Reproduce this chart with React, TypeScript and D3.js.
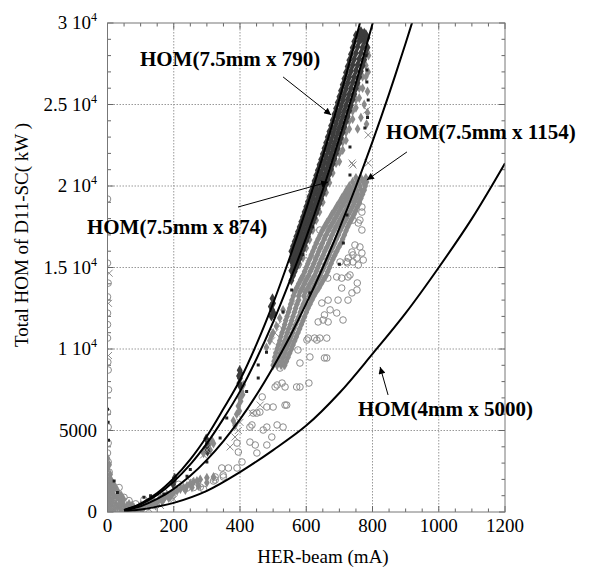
import React from "react";
import * as d3 from "d3";

// ---------- data (HER-beam current in mA, HOM power in kW) ----------
const xTicks = [0, 200, 400, 600, 800, 1000, 1200];
const yTicks = [0, 5000, 10000, 15000, 20000, 25000, 30000];
const yTickText = ["0", "5000", "1 10^4", "1.5 10^4", "2 10^4", "2.5 10^4", "3 10^4"];

const curve790: [number, number][] = [[50,130],[100,520],[150,1160],[200,2070],[250,3230],[300,4650],[350,6330],[400,8100],[450,10300],[500,12800],[550,15600],[600,18600],[650,21830],[700,25320],[750,29060],[770,30630]];
const curve874: [number, number][] = [[50,117],[100,468],[150,1050],[200,1870],[250,2920],[300,4210],[350,5730],[400,7400],[450,9400],[500,11650],[550,14160],[600,16850],[650,19770],[700,22930],[750,26330],[800,29950],[810,30700]];
const curve1154: [number, number][] = [[50,90],[100,355],[150,800],[200,1420],[250,2220],[300,3200],[350,4350],[400,5680],[450,7190],[500,8880],[550,10740],[600,12780],[650,15000],[700,17400],[750,19970],[800,22720],[850,25650],[900,28760],[930,30700]];
const curve5000: [number, number][] = [[50,40],[100,150],[150,330],[200,560],[300,1300],[400,2450],[500,3800],[600,5300],[700,7300],[800,9700],[900,12200],[1000,15000],[1100,18000],[1200,21400]];

// dark band rows: current -> list of powers
const darkBandRows: [number, number[]][] = [
  [555,[14200,14800,15400,16000]],[560,[14500,15100,15700,16300]],[565,[14750,15350,15950,16600]],
  [570,[15000,15650,16300,16900]],[575,[15280,15920,16560,17190]],[580,[15540,16190,16840,17490]],
  [585,[15810,16470,17130,17800]],[590,[16080,16750,17430,18100]],[595,[16360,17040,17720,18410]],
  [600,[16630,17330,18030,18720]],[605,[16910,17620,18330,19030]],[610,[17190,17910,18630,19350]],
  [615,[17470,18200,18940,19670]],[620,[17760,18500,19250,19990]],[625,[18050,18800,19560,20310]],
  [630,[18340,19110,19870,20640]],[635,[18630,19410,20190,20970]],[640,[18920,19710,20510,21300]],
  [645,[19220,20020,20830,21630]],[650,[19520,20340,21150,21970]],[655,[19820,20650,21480,22310]],
  [660,[20120,20960,21810,22650]],[665,[20430,21290,22140,23000]],[670,[20740,21610,22470,23340]],
  [675,[21050,21930,22810,23690]],[680,[21360,22260,23150,24040]],[685,[21680,22590,23490,24400]],
  [690,[22000,22920,23840,24760]],[695,[22320,23250,24190,25120]],[700,[22640,23590,24530,25480]],
  [705,[22960,23920,24890,25850]],[710,[23290,24260,25240,26210]],[715,[23620,24610,25600,26580]],
  [720,[23950,24950,25960,26960]],[725,[24280,25300,26310,27330]],[730,[24620,25650,26680,27710]],
  [735,[24960,26000,27050,28090]],[740,[25300,26360,27420,28480]],[745,[25640,26710,27790,28860]],
  [750,[25990,27080,28160,29250]],[755,[26330,27440,28540,29300]],[760,[26690,27800,28900,29400]],
  [765,[27040,28160,29000,29500]],[770,[27390,28500,29300]],[775,[27750,28900,29400]],
  [780,[28110,29000,29300]],[785,[28500,29100]],
];
const darkClumps: [number, number][] = [[495,12000],[497,12400],[500,12800],[498,13100],[493,12600],[502,12200],[398,7900],[400,8200],[402,8500],[399,8700],[401,7700],[397,8350],[300,3900],[303,4200],[298,4500],[302,3700],[200,1900],[198,1700],[203,2100]];

// lower grey band rows: power -> list of currents
const greyBandRows: [number, number[]][] = [
  [9000,[500,512,524,535]],[9250,[503,515,527,540]],[9500,[505,518,531,545]],[9750,[508,522,536,550]],
  [10000,[512,526,540,555]],[10250,[516,530,545,560]],[10500,[520,535,550,565]],[10750,[523,539,554,570]],
  [11000,[527,543,559,575]],[11250,[531,547,563,580]],[11500,[535,552,568,585]],[11750,[538,556,573,590]],
  [12000,[542,560,578,595]],[12250,[546,564,582,600]],[12500,[550,568,586,605]],[12750,[553,572,591,611]],
  [13000,[557,577,597,617]],[13250,[561,577,593,609,623]],[13500,[565,581,597,614,630]],[13750,[571,588,605,621,638]],
  [14000,[577,594,611,628,645]],[14250,[583,600,618,635,652]],[14500,[590,607,625,642,660]],[14750,[595,612,630,647,665]],
  [15000,[600,618,635,653,670]],[15250,[605,623,640,658,675]],[15500,[610,628,645,663,680]],[15750,[615,633,651,669,686]],
  [16000,[620,638,656,674,692]],[16250,[625,643,662,680,698]],[16500,[630,649,668,686,705]],[16750,[636,654,673,691,710]],
  [17000,[642,660,678,697,715]],[17250,[648,666,684,702,720]],[17500,[655,673,690,708,725]],[17750,[662,680,697,714,731]],
  [18000,[670,687,704,721,738]],[18250,[677,694,711,727,744]],[18500,[685,701,718,734,750]],[18750,[692,708,724,740,755]],
  [19000,[700,715,730,745,760]],[19250,[707,722,737,751,765]],[19500,[715,729,743,756,770]],[19750,[722,737,752,766,775]],
  [20000,[730,746,762,778]],[20250,[740,756,772,782]],[20500,[750,765,780]],
];
const greyUpper: [number, number][] = [[620,17300],[630,17900],[640,18400],[650,19000],[660,19600],[670,20200],[680,20800],[690,21400],[700,22000],[710,22700],[720,23300],[730,24000],[740,24600],[750,25300],[760,26000],[770,26700],[780,27400],[785,28200],[700,21500],[710,22200],[720,22800],[730,23500],[740,24100],[750,24800],[760,25400],[770,26000],[780,26700],[785,25800],[787,27000],[785,24500],[782,23800],[775,25000],[765,24200],[755,23500],[600,16200],[610,16700],[580,15200],[590,15600],[782,28600],[778,29200],[788,28000]];
const greyClumps: [number, number][] = [[380,5600],[390,6000],[395,6500],[400,7000],[405,7400],[410,7800],[398,6200],[402,6800],[385,5300],[408,7200],[290,3600],[300,3900],[305,4100],[315,4400],[320,4200],[310,3800],[480,10100],[490,10500],[500,11000],[510,11400],[520,11900],[530,12400],[495,10800],[220,1400],[230,1500],[240,1600],[250,1750],[260,1850],[270,1900],[280,2000],[300,2100],[320,2150],[235,1350],[255,1500],[275,1600],[300,1800]];
const greyOrigin: [number, number][] = [[5,200],[10,400],[15,700],[20,1000],[8,1300],[25,500],[30,300],[35,800],[12,1600],[40,200],[45,600],[50,400],[55,150],[60,350],[70,100],[80,250],[90,200],[100,400],[110,300],[120,550],[130,450],[140,700],[150,600],[160,850],[170,800],[180,1050],[190,950],[200,1200],[210,1300],[20,50],[40,0],[60,0],[0,800],[0,1100],[3,50],[5,1800],[0,2000],[8,2300],[2,300],[4,600],[6,900],[8,1100],[3,1500],[15,1300],[18,1700],[25,1500],[28,900],[33,1200],[38,500],[42,1000],[48,800],[22,300],[12,100],[50,100],[65,500],[75,400],[85,100],[95,300],[105,150],[115,500],[125,350],[135,600],[145,400],[155,750],[165,650],[175,950],[185,850],[195,1100],[10,2000],[0,2600],[5,2900],[0,3300]];

const circlePts: [number, number][] = [[722,15360],[741,15340],[665,14350],[692,14420],[707,14350],[732,14540],[754,14050],[738,13440],[707,13740],[696,13000],[666,13000],[647,12820],[672,12400],[655,12090],[636,11660],[666,11660],[606,10670],[625,10670],[662,10670],[641,10670],[575,9940],[611,9510],[655,9450],[581,9140],[551,10550],[521,8830],[506,7670],[536,7670],[581,7670],[527,7910],[571,7670],[608,7910],[467,7060],[481,6440],[451,6070],[500,6440],[536,6560],[436,5340],[470,5030],[530,5210],[496,4600],[446,4110],[391,4230],[451,3620],[406,3070],[365,2700],[391,2700],[349,2270],[325,1960],[280,1530],[240,1470],[726,14420],[753,13620],[726,13000],[692,12210],[711,11780],[651,11780],[632,10550],[602,10550],[662,9450],[772,15460],[741,15770],[641,17300],[672,17420],[661,16870],[757,18960],[768,18710],[768,18400],[762,17910],[741,17910],[757,17730],[768,17300],[747,16380],[762,16260],[738,15950],[768,15890],[753,15580],[727,15580],[724,15280],[757,15150],[641,16260],[656,15340],[681,15770],[702,15340],[512,7790],[440,6070],[460,6130],[541,6560],[430,5210],[481,5210],[512,5340],[430,4290],[481,4110],[395,3680],[345,2700],[350,2150],[325,2150],[0,19200],[0,15270],[2,14040],[0,12200],[0,10670],[1,9200],[2,8710],[0,6130],[2,5210],[2,4230],[0,3620],[2,3070],[5,2450],[5,1960],[10,1470],[0,11500],[0,13200],[3,7500],[10,600],[25,1200],[35,1500],[50,900],[65,700],[85,500],[110,750],[140,400],[170,1200],[195,1000],[215,1700],[260,1500],[290,1400],[320,1900]];
const crossPts: [number, number][] = [[738,21410],[787,21410],[783,24660],[787,23130],[741,21290],[622,15640],[461,6560],[436,6070],[370,3990],[395,5000],[385,4600],[400,5500],[300,3800],[310,4200],[290,3500],[505,11000],[495,10500],[515,11500],[5,14650],[3,12800],[3,9600],[15,150],[30,0],[70,300],[95,50],[125,200],[160,400],[200,800],[250,1900],[560,12800],[590,14200]];
const squarePts: [number, number][] = [[783,27120],[783,26380],[787,25280],[777,23560],[732,22390],[732,20670],[723,18220],[712,16500],[700,15200],[556,13620],[530,12270],[611,13440],[360,5770],[340,4540],[300,3070],[455,9020],[455,8220],[0,6300],[3,4400],[2,5500],[20,1900],[30,1200],[110,900],[130,1000],[170,1100],[240,2200],[620,17500],[590,15800],[780,28000],[785,24200],[250,2600],[420,7400],[480,9800]];

const annotations = [
  { text: "HOM(7.5mm x 790)", tx: 98, ty: 27360, from: [530, 26690], to: [675, 24360] },
  { text: "HOM(7.5mm x 874)", tx: -62, ty: 17055, from: [394, 18710], to: [666, 20245] },
  { text: "HOM(7.5mm x 1154)", tx: 841, ty: 22880, from: [904, 22090], to: [783, 20370] },
  { text: "HOM(4mm x 5000)", tx: 756, ty: 5890, from: [847, 7180], to: [823, 8900] },
];

// ---------- layout ----------
const W = 589, H = 568;
const L = 107.5, R = 505, T = 23, B = 512;
const FONT = "'Liberation Serif', 'Times New Roman', serif";

export default function App() {
  const x = d3.scaleLinear().domain([0, 1200]).range([L, R]);
  const y = d3.scaleLinear().domain([0, 30000]).range([B, T]);

  const darkPts: [number, number][] = darkBandRows.flatMap(([i, ps]) => ps.map((p) => [i, p] as [number, number])).concat(darkClumps);
  const greyPts: [number, number][] = greyBandRows.flatMap(([p, is]) => is.map((i) => [i, p] as [number, number])).concat(greyUpper, greyClumps, greyOrigin);

  const diamond = d3.symbol(d3.symbolDiamond, 30)() as string;
  const greyDiamond = d3.symbol(d3.symbolDiamond, 28)() as string;
  const sq = d3.symbol(d3.symbolSquare, 9)() as string;
  const line = d3.line<[number, number]>().x((d) => x(d[0])).y((d) => y(d[1])).curve(d3.curveCatmullRom);

  const xMinor = d3.range(0, 1201, 50);
  const yMinor = d3.range(0, 30001, 1000);

  return (
    <svg width={W} height={H} style={{ position: "absolute", left: 0, top: 0, background: "#fff", fontFamily: FONT }}>
      <defs>
        <clipPath id="plot"><rect x={L} y={T} width={R - L} height={B - T} /></clipPath>
        <marker id="ah" viewBox="0 0 10 10" refX="10" refY="5" markerWidth="9" markerHeight="7" markerUnits="userSpaceOnUse" orient="auto">
          <path d="M0,0 L10,5 L0,10 z" fill="#000" />
        </marker>
      </defs>
      <rect x={0} y={0} width={W} height={H} fill="#fff" />
      {/* grid */}
      <g stroke="#999" strokeWidth={1} strokeDasharray="1.5,1.5">
        {xTicks.slice(1, -1).map((t) => <line key={"gx" + t} x1={x(t)} x2={x(t)} y1={T} y2={B} />)}
        {yTicks.slice(1, -1).map((t) => <line key={"gy" + t} x1={L} x2={R} y1={y(t)} y2={y(t)} />)}
      </g>
      {/* ticks */}
      <g stroke="#666" strokeWidth={1}>
        {xMinor.map((t) => {
          const len = t % 200 === 0 ? 6 : 3.5;
          return (
            <g key={"xt" + t}>
              <line x1={x(t)} x2={x(t)} y1={B} y2={B - len} />
              <line x1={x(t)} x2={x(t)} y1={T} y2={T + len} />
            </g>
          );
        })}
        {yMinor.map((t) => {
          const len = t % 5000 === 0 ? 6 : 3.5;
          return (
            <g key={"yt" + t}>
              <line x1={L} x2={L + len} y1={y(t)} y2={y(t)} />
              <line x1={R} x2={R - len} y1={y(t)} y2={y(t)} />
            </g>
          );
        })}
      </g>
      {/* data */}
      <g clipPath="url(#plot)">
        <g fill="none" stroke="#8c8c8c" strokeWidth={1}>
          {circlePts.map((d, i) => <circle key={"c" + i} cx={x(d[0])} cy={y(d[1])} r={3.3} />)}
        </g>
        <g fill="#8a8a8a">
          {greyPts.map((d, i) => <path key={"g" + i} d={greyDiamond} transform={`translate(${x(d[0])},${y(d[1])})`} />)}
        </g>
        <g fill="#3c3c3c">
          {darkPts.map((d, i) => <path key={"d" + i} d={diamond} transform={`translate(${x(d[0])},${y(d[1])})`} />)}
        </g>
        <g stroke="#8c8c8c" strokeWidth={1}>
          {crossPts.map((d, i) => (
            <path key={"x" + i} d="M-3.5,-3.5L3.5,3.5M-3.5,3.5L3.5,-3.5" transform={`translate(${x(d[0])},${y(d[1])})`} />
          ))}
        </g>
        <g fill="#222">
          {squarePts.map((d, i) => <path key={"s" + i} d={sq} transform={`translate(${x(d[0])},${y(d[1])})`} />)}
        </g>
        <g fill="none" stroke="#000" strokeWidth={2}>
          {[curve790, curve874, curve1154, curve5000].map((c, i) => <path key={"l" + i} d={line(c) as string} />)}
        </g>
      </g>
      {/* frame */}
      <rect x={L} y={T} width={R - L} height={B - T} fill="none" stroke="#777" strokeWidth={1} />
      {/* tick labels */}
      <g fontSize={19} fill="#000">
        {xTicks.map((t) => (
          <text key={"xl" + t} x={x(t)} y={B + 20} textAnchor="middle">{t}</text>
        ))}
        {yTicks.map((t, i) => {
          const [base, exp] = yTickText[i].split("^");
          return (
            <text key={"yl" + t} x={97} y={y(t) + 6} textAnchor="end">
              <tspan>{base}</tspan>
              {exp && <tspan dy={-8} fontSize={12}>{exp}</tspan>}
            </text>
          );
        })}
      </g>
      {/* axis titles */}
      <text x={323} y={563} textAnchor="middle" fontSize={19}>HER-beam (mA)</text>
      <text transform="translate(28,235) rotate(-90)" textAnchor="middle" fontSize={19}>Total HOM of D11-SC( kW )</text>
      {/* annotations */}
      {annotations.map((a, i) => (
        <g key={"a" + i}>
          <line x1={x(a.from[0])} y1={y(a.from[1])} x2={x(a.to[0])} y2={y(a.to[1])} stroke="#000" strokeWidth={1} markerEnd="url(#ah)" />
          <text x={x(a.tx)} y={y(a.ty)} fontSize={21} fontWeight="bold">{a.text}</text>
        </g>
      ))}
    </svg>
  );
}
